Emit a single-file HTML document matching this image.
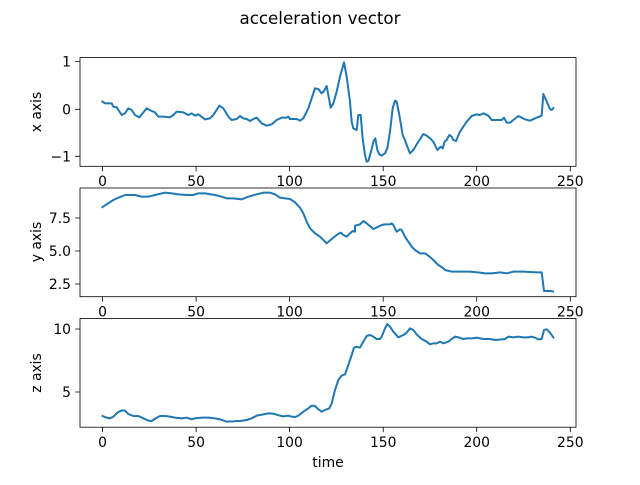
<!DOCTYPE html>
<html><head><style>
body{margin:0;background:#fff}
svg text{font-family:"DejaVu Sans","Liberation Sans",sans-serif;font-size:13.9px;fill:#000}
</style></head><body>
<svg width="640" height="480" viewBox="0 0 640 480" xmlns="http://www.w3.org/2000/svg">
<rect width="640" height="480" fill="#fff"/>
<text x="320" y="24" text-anchor="middle" style="font-size:16.7px">acceleration vector</text>

<g transform="translate(80,55) scale(0.3333333)">
<polyline fill="none" stroke="#1f77b4" stroke-width="6" stroke-linejoin="round" points="65,138 75,145 95,145 100,155 110,157 125,180 135,175 145,160 155,165 165,180 178,187 190,172 200,160 215,168 225,172 235,185 250,185 270,187 280,180 290,170 310,172 325,180 335,175 345,182 355,178 375,193 390,190 400,180 418,152 430,160 445,185 455,195 470,192 480,183 490,190 500,192 510,198 520,192 530,188 545,205 560,212 575,208 590,195 605,188 620,188 625,185 630,192 650,192 660,197 670,190 685,160 695,130 705,100 715,102 725,115 732,108 740,93 752,158 760,145 770,110 780,65 792,22 800,65 810,140 815,200 820,220 830,225 835,180 842,180 848,250 855,300 860,320 865,318 873,290 880,260 886,250 892,285 898,298 905,302 915,295 922,280 930,230 938,160 945,137 950,140 958,180 968,240 975,255 980,270 990,295 1000,285 1015,260 1030,237 1040,242 1050,250 1060,260 1072,285 1082,275 1088,280 1094,260 1100,255 1108,240 1115,245 1120,255 1128,258 1140,230 1150,215 1160,200 1175,183 1190,178 1200,180 1210,175 1225,182 1235,195 1250,195 1265,195 1272,188 1280,203 1290,203 1300,195 1315,183 1325,188 1335,193 1350,197 1365,190 1385,182 1390,117 1398,135 1410,162 1415,165 1422,157"/>
</g>
<g transform="translate(80,185) scale(0.3333333)">
<polyline fill="none" stroke="#1f77b4" stroke-width="6" stroke-linejoin="round" points="65,68 80,58 100,45 115,38 135,30 150,30 165,30 185,35 205,35 225,30 255,23 275,25 295,28 320,30 340,30 355,25 375,25 405,30 425,35 440,40 460,40 485,43 505,35 530,28 550,23 570,23 585,28 600,38 615,40 630,42 645,52 660,68 670,85 680,110 690,130 705,145 720,155 740,175 755,162 770,150 782,143 790,150 800,155 810,145 818,138 825,140 825,122 840,118 850,108 860,115 880,132 895,125 905,120 915,118 930,118 935,115 940,120 950,140 960,133 965,135 975,155 995,185 1005,195 1020,205 1035,205 1045,212 1060,225 1075,240 1090,250 1095,255 1115,260 1140,260 1170,260 1200,263 1215,265 1235,265 1260,262 1280,265 1300,260 1330,260 1370,262 1385,262 1392,318 1412,318 1422,320"/>
</g>
<g transform="translate(80,315) scale(0.3333333)">
<polyline fill="none" stroke="#1f77b4" stroke-width="6" stroke-linejoin="round" points="65,302 80,308 90,310 100,305 112,293 125,286 135,287 145,297 160,303 175,303 190,310 205,317 215,318 225,311 240,303 255,303 270,305 285,308 305,310 320,308 335,313 345,310 365,308 385,308 405,310 420,313 440,320 460,319 470,318 480,318 500,315 515,310 530,302 550,298 565,295 580,296 600,302 610,304 625,302 635,305 645,306 655,302 670,290 685,280 695,272 705,273 715,283 725,290 735,285 748,280 755,265 765,225 775,195 785,182 795,178 805,150 815,120 822,98 830,95 840,98 850,80 860,63 870,60 880,65 890,72 900,72 905,65 915,40 922,27 930,35 940,50 955,67 970,60 980,53 990,40 1000,45 1010,58 1025,72 1040,80 1050,88 1060,85 1070,85 1080,80 1090,85 1105,80 1115,72 1125,65 1135,67 1150,72 1160,70 1175,70 1190,68 1200,70 1210,72 1230,72 1245,75 1265,73 1275,72 1285,65 1300,67 1315,65 1330,67 1345,67 1355,65 1365,68 1375,73 1385,72 1392,45 1400,43 1410,53 1422,70"/>
</g>

<g fill="none" stroke="#000" stroke-width="0.8">
<rect x="80" y="57.6" width="496" height="108.7"/>
<rect x="80" y="188" width="496" height="108.7"/>
<rect x="80" y="318.5" width="496" height="108.7"/>
<path d="M102.5,166.3v4.9M196.1,166.3v4.9M289.6,166.3v4.9M383.2,166.3v4.9M476.7,166.3v4.9M570.3,166.3v4.9
M102.5,296.7v4.9M196.1,296.7v4.9M289.6,296.7v4.9M383.2,296.7v4.9M476.7,296.7v4.9M570.3,296.7v4.9
M102.5,427.2v4.9M196.1,427.2v4.9M289.6,427.2v4.9M383.2,427.2v4.9M476.7,427.2v4.9M570.3,427.2v4.9
M80,61.5h-4.9M80,109.3h-4.9M80,156.3h-4.9
M80,218h-4.9M80,251h-4.9M80,284h-4.9
M80,329h-4.9M80,392h-4.9"/>
</g>
<g text-anchor="middle">
<text x="102.5" y="186">0</text><text x="196.1" y="186">50</text><text x="289.6" y="186">100</text><text x="383.2" y="186">150</text><text x="476.7" y="186">200</text><text x="570.3" y="186">250</text>
<text x="102.5" y="316.5">0</text><text x="196.1" y="316.5">50</text><text x="289.6" y="316.5">100</text><text x="383.2" y="316.5">150</text><text x="476.7" y="316.5">200</text><text x="570.3" y="316.5">250</text>
<text x="102.5" y="447">0</text><text x="196.1" y="447">50</text><text x="289.6" y="447">100</text><text x="383.2" y="447">150</text><text x="476.7" y="447">200</text><text x="570.3" y="447">250</text>
<text x="328" y="467">time</text>
</g>
<g text-anchor="end">
<text x="71" y="66.5">1</text><text x="71" y="114.3">0</text><text x="71" y="161.3">−1</text>
<text x="71" y="223">7.5</text><text x="71" y="256">5.0</text><text x="71" y="289">2.5</text>
<text x="71" y="334">10</text><text x="71" y="397">5</text>
</g>
<text transform="translate(41,112) rotate(-90)" text-anchor="middle">x axis</text>
<text transform="translate(41,242) rotate(-90)" text-anchor="middle">y axis</text>
<text transform="translate(41,373) rotate(-90)" text-anchor="middle">z axis</text>
</svg>
</body></html>
